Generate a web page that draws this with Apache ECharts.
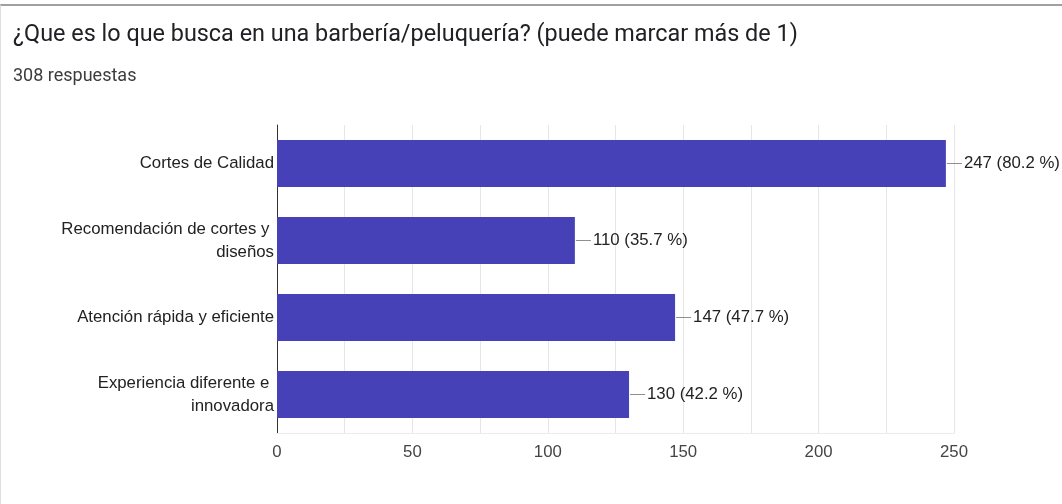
<!DOCTYPE html>
<html>
<head>
<meta charset="utf-8">
<script src="https://cdn.jsdelivr.net/npm/echarts@6/dist/echarts.min.js"></script>
<style>
  html, body { margin: 0; padding: 0; background: #fff; }
  #wrap { position: relative; width: 1062px; height: 504px; overflow: hidden; }
  #chart { width: 1062px; height: 504px; }
  #frame { position: absolute; left: 0; top: 4px; width: 1062px; height: 500px;
           border-top: 2px solid #a0a0a0; border-left: 1px solid #dedede; box-sizing: border-box; pointer-events: none; }
</style>
</head>
<body>
<div id="wrap">
  <div id="chart"></div>
  <div id="frame"></div>
</div>
<script>
// Survey question, answer count and results
const questionTitle = '¿Que es lo que busca en una barbería/peluquería? (puede marcar más de 1)';
const responsesLabel = '308 respuestas';
const categories = [
  'Cortes de Calidad',
  'Recomendación de cortes y diseños',
  'Atención rápida y eficiente',
  'Experiencia diferente e innovadora'
];
const counts = [247, 110, 147, 130];
const percents = [80.2, 35.7, 47.7, 42.2];
const xTicks = [0, 50, 100, 150, 200, 250];

const chart = echarts.init(document.getElementById('chart'), null, { renderer: 'canvas' });

const labelFont = 'Liberation Sans';
const labelSize = 16.8;

const option = {
  animation: false,
  backgroundColor: '#ffffff',
  title: [
    {
      text: questionTitle,
      left: 13, top: 24, padding: 0,
      textStyle: { fontFamily: 'Roboto', fontSize: 23.4, fontWeight: 'normal', color: '#202124' }
    },
    {
      text: responsesLabel,
      left: 13, top: 67, padding: 0,
      textStyle: { fontFamily: 'Roboto', fontSize: 18, fontWeight: 'normal', color: '#3c3c3c' }
    }
  ],
  grid: { left: 277, right: 108, top: 125, bottom: 71, containLabel: false },
  xAxis: {
    type: 'value',
    min: 0, max: 250, interval: 25,
    axisLine: { show: true, lineStyle: { color: '#ececec', width: 1 } },
    axisTick: { show: false },
    splitLine: { show: true, lineStyle: { color: '#e6e6e6', width: 1 } },
    axisLabel: {
      fontFamily: labelFont, fontSize: labelSize, color: '#444', margin: 11,
      formatter: v => (xTicks.indexOf(v) >= 0 ? String(v) : '')
    }
  },
  yAxis: {
    type: 'category',
    inverse: true,
    data: categories,
    axisLine: { show: true, lineStyle: { color: '#333', width: 1 } },
    axisTick: { show: false },
    axisLabel: {
      fontFamily: labelFont, fontSize: labelSize, color: '#222', margin: 3,
      width: 222, overflow: 'break', lineHeight: 23, align: 'right'
    }
  },
  series: [{
    type: 'bar',
    data: counts,
    barWidth: '61%',
    itemStyle: { color: '#4641b6' },
    label: {
      show: true,
      position: 'right',
      distance: 1,
      formatter: p => '{l|}{v|' + counts[p.dataIndex] + ' (' + percents[p.dataIndex].toFixed(1) + ' %)}',
      rich: {
        l: { width: 15, height: 1, backgroundColor: '#8f8f8f', verticalAlign: 'middle' },
        v: { fontFamily: labelFont, fontSize: labelSize, color: '#222', lineHeight: 20, padding: [0, 0, 0, 2], verticalAlign: 'middle' }
      }
    }
  }]
};

chart.setOption(option);
</script>
</body>
</html>
